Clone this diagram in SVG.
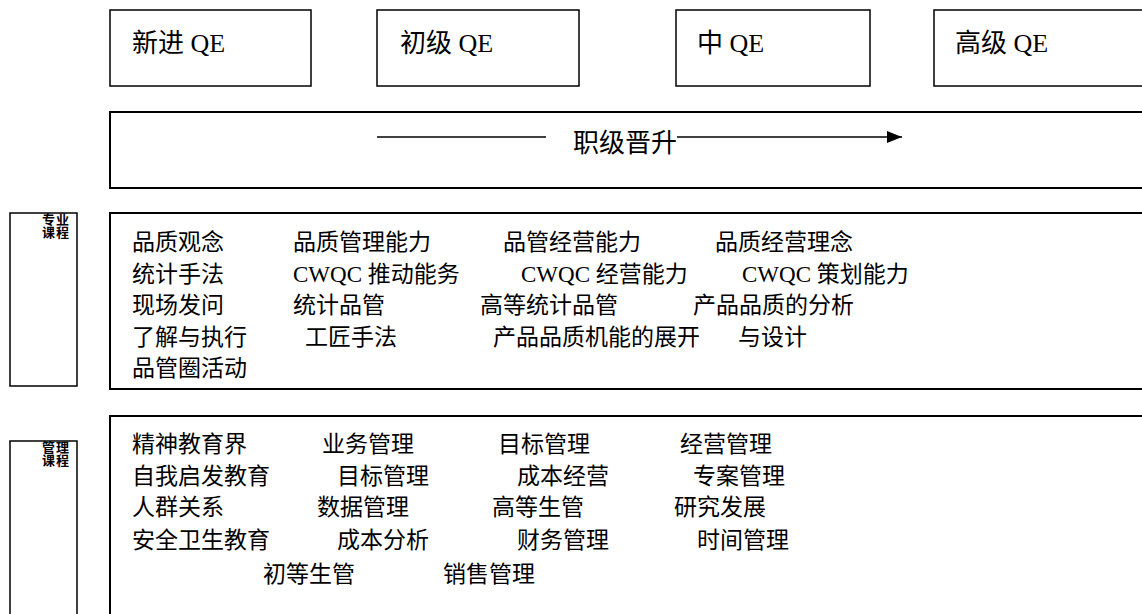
<svg xmlns="http://www.w3.org/2000/svg" width="1142" height="614" viewBox="0 0 1142 614">
<style>
  text { font-family: "Liberation Serif", "Noto Sans CJK SC", serif; fill: #000; }
  .box { fill: #fff; stroke: #000; stroke-width: 1.5; }
  .sec { fill: #fff; stroke: #000; stroke-width: 2; }
  .t26 { font-size: 26px; }
  .t23 { font-size: 23px; }
  .lbl { font-size: 13px; font-weight: bold; letter-spacing: 1px; }
  .conn { stroke: #000; stroke-width: 1.5; fill: none; }
</style>
<defs>
  <marker id="arr" viewBox="0 0 10 10" refX="10" refY="5" markerWidth="15" markerHeight="12" markerUnits="userSpaceOnUse" orient="auto" preserveAspectRatio="none">
    <path d="M0,0 L10,5 L0,10 Z" fill="#000"/>
  </marker>
</defs>

<g id="level-new">
  <rect class="box" x="110" y="10" width="201" height="76"/>
  <text class="t26" x="132" y="52">新进 QE</text>
</g>
<g id="level-junior">
  <rect class="box" x="377" y="10" width="202" height="76"/>
  <text class="t26" x="400" y="52">初级 QE</text>
</g>
<g id="level-mid">
  <rect class="box" x="676" y="10" width="194" height="76"/>
  <text class="t26" x="697" y="52">中 QE</text>
</g>
<g id="level-senior">
  <rect class="box" x="934" y="10" width="230" height="76"/>
  <text class="t26" x="955" y="52">高级 QE</text>
</g>

<g id="promotion">
  <rect class="sec" x="110" y="112" width="1050" height="76"/>
  <text class="t26" x="573" y="152">职级晋升</text>
</g>

<g id="connectors">
  <line class="conn" x1="377" y1="137" x2="546" y2="137"/>
  <line class="conn" x1="677" y1="137" x2="902" y2="137" marker-end="url(#arr)"/>
</g>

<g id="label-pro">
  <rect class="box" x="10" y="213" width="67" height="173"/>
  <text class="lbl" x="42" y="224">专业<tspan x="42" y="237">课程</tspan></text>
</g>
<g id="courses-pro">
  <rect class="sec" x="110" y="213" width="1050" height="176"/>
  <g class="t23">
    <text x="132" y="250">品质观念</text>
    <text x="293" y="250">品质管理能力</text>
    <text x="503" y="250">品管经营能力</text>
    <text x="715" y="250">品质经营理念</text>
    <text x="132" y="282">统计手法</text>
    <text x="293" y="282">CWQC 推动能务</text>
    <text x="521" y="282">CWQC 经营能力</text>
    <text x="742" y="282">CWQC 策划能力</text>
    <text x="132" y="313">现场发问</text>
    <text x="293" y="313">统计品管</text>
    <text x="480" y="313">高等统计品管</text>
    <text x="693" y="313">产品品质的分析</text>
    <text x="132" y="345">了解与执行</text>
    <text x="305" y="345">工匠手法</text>
    <text x="493" y="345">产品品质机能的展开</text>
    <text x="738" y="345">与设计</text>
    <text x="132" y="376">品管圈活动</text>
  </g>
</g>

<g id="label-mgmt">
  <rect class="box" x="10" y="441" width="67" height="190"/>
  <text class="lbl" x="42" y="452">管理<tspan x="42" y="465">课程</tspan></text>
</g>
<g id="courses-mgmt">
  <rect class="sec" x="110" y="416" width="1050" height="215"/>
  <g class="t23">
    <text x="132" y="452">精神教育界</text>
    <text x="322" y="452">业务管理</text>
    <text x="498" y="452">目标管理</text>
    <text x="680" y="452">经营管理</text>
    <text x="132" y="484">自我启发教育</text>
    <text x="337" y="484">目标管理</text>
    <text x="517" y="484">成本经营</text>
    <text x="693" y="484">专案管理</text>
    <text x="132" y="515">人群关系</text>
    <text x="317" y="515">数据管理</text>
    <text x="492" y="515">高等生管</text>
    <text x="674" y="515">研究发展</text>
    <text x="132" y="548">安全卫生教育</text>
    <text x="337" y="548">成本分析</text>
    <text x="517" y="548">财务管理</text>
    <text x="697" y="548">时间管理</text>
    <text x="263" y="582">初等生管</text>
    <text x="443" y="582">销售管理</text>
  </g>
</g>
</svg>
